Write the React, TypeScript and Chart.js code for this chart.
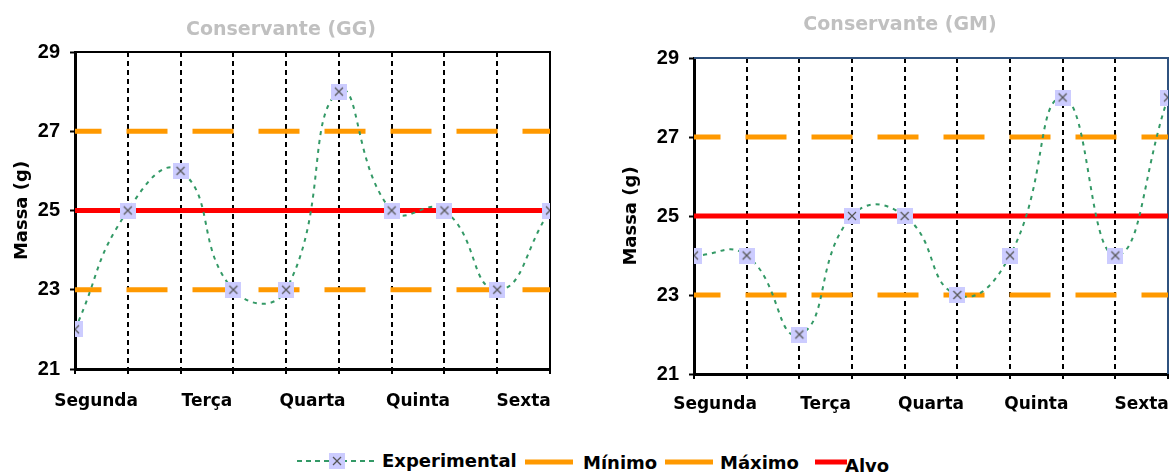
import React, { useEffect, useRef } from 'react';
import { Chart, registerables } from 'chart.js';

Chart.register(...registerables);

// ---------- data ----------
const DAYS = ['Segunda', 'Terça', 'Quarta', 'Quinta', 'Sexta'];
const DAY_POSITIONS = [0.4, 2.5, 4.5, 6.5, 8.5];
const SAMPLES = [0, 1, 2, 3, 4, 5, 6, 7, 8, 9];
const Y_TICKS = [21, 23, 25, 27, 29];

const GG_EXPERIMENTAL = [22, 25, 26, 23, 23, 28, 25, 25, 23, 25];
const GM_EXPERIMENTAL = [24, 24, 22, 25, 25, 23, 24, 28, 24, 28];
const MINIMO = [23, 23, 23, 23, 23, 23, 23, 23, 23, 23];
const MAXIMO = [27, 27, 27, 27, 27, 27, 27, 27, 27, 27];
const ALVO = [25, 25, 25, 25, 25, 25, 25, 25, 25, 25];

const TITLE_GG = 'Conservante (GG)';
const TITLE_GM = 'Conservante (GM)';

// ---------- styles ----------
const GREEN = '#339966';
const ORANGE = '#ff9900';
const RED = '#ff0000';
const MARKER_FILL = '#ccccff';
const FONT = 'DejaVu Sans';

function makeMarker(): HTMLCanvasElement {
  const c = document.createElement('canvas');
  c.width = 16;
  c.height = 16;
  const g = c.getContext('2d')!;
  g.fillStyle = MARKER_FILL;
  g.fillRect(0, 0, 16, 16);
  g.strokeStyle = '#555555';
  g.lineWidth = 1.2;
  g.beginPath();
  g.moveTo(4, 4);
  g.lineTo(12, 12);
  g.moveTo(12, 4);
  g.lineTo(4, 12);
  g.stroke();
  return c;
}

const framePlugin = {
  id: 'frame',
  beforeDatasetsDraw(chart: any, _args: any, opts: any) {
    const { ctx, chartArea: a } = chart;
    ctx.save();
    ctx.strokeStyle = opts.color;
    ctx.lineWidth = opts.width;
    ctx.beginPath();
    ctx.moveTo(a.left, a.top);
    ctx.lineTo(a.right, a.top);
    ctx.lineTo(a.right, a.bottom);
    ctx.stroke();
    ctx.restore();
  },
};

const pts = (vals: number[]) => vals.map((v, i) => ({ x: SAMPLES[i], y: v }));

interface Cfg {
  title: string;
  values: number[];
  frameColor: string;
  frameWidth: number;
  padL: number;
  padR: number;
  yWidth: number;
  yTitlePad: number;
  titlePadTop: number;
  titlePadBottom: number;
  xHeight: number;
  xPad: number;
  marker: HTMLCanvasElement;
}

function buildConfig(o: Cfg): any {
  const refLine = (label: string, data: number[], color: string, dashed: boolean) => ({
    label,
    data: pts(data),
    borderColor: color,
    backgroundColor: color,
    borderWidth: 5,
    borderCapStyle: 'square',
    borderDash: dashed ? [36, 30] : [],
    borderDashOffset: dashed ? 12 : 0,
    pointRadius: 0,
    tension: 0,
    fill: false,
  });
  return {
    type: 'line',
    data: {
      datasets: [
        {
          label: 'Experimental',
          data: pts(o.values),
          borderColor: GREEN,
          borderWidth: 2,
          borderDash: [4, 5],
          tension: 0.5,
          pointStyle: o.marker,
          pointRadius: 8,
          pointBorderWidth: 0,
          fill: false,
        },
        refLine('Mínimo', MINIMO, ORANGE, true),
        refLine('Máximo', MAXIMO, ORANGE, true),
        refLine('Alvo', ALVO, RED, false),
      ],
    },
    options: {
      responsive: false,
      animation: false,
      events: [],
      layout: { autoPadding: false, padding: { left: o.padL, right: o.padR, top: 0, bottom: 0 } },
      plugins: {
        legend: { display: false },
        tooltip: { enabled: false },
        title: {
          display: true,
          text: o.title,
          color: '#c0c0c0',
          font: { family: FONT, size: 19, weight: 'bold', lineHeight: 1.2 },
          padding: { top: o.titlePadTop, bottom: o.titlePadBottom },
        },
        frame: { color: o.frameColor, width: o.frameWidth },
      },
      scales: {
        x: {
          type: 'linear',
          min: 0,
          max: 9,
          afterBuildTicks: (s: any) => {
            const t: any[] = [];
            SAMPLES.forEach((v) => t.push({ value: v }));
            DAY_POSITIONS.forEach((v) => t.push({ value: v }));
            t.sort((a, b) => a.value - b.value);
            s.ticks = t;
          },
          ticks: {
            autoSkip: false,
            maxRotation: 0,
            minRotation: 0,
            color: '#000',
            padding: o.xPad,
            font: { family: FONT, size: 17, weight: 'bold', lineHeight: 1.2 },
            callback: (v: number) => {
              const i = DAY_POSITIONS.indexOf(v);
              return i >= 0 ? DAYS[i] : '';
            },
          },
          grid: {
            color: (c: any) => {
              const v = c.tick ? c.tick.value : -1;
              return SAMPLES.includes(v) && v > 0 && v < 9 ? '#000' : 'rgba(0,0,0,0)';
            },
            lineWidth: 2,
            tickLength: 5,
            tickWidth: 2,
            tickColor: (c: any) => {
              const v = c.tick ? c.tick.value : -1;
              return SAMPLES.includes(v) ? '#000' : 'rgba(0,0,0,0)';
            },
          },
          border: { color: '#000', width: 3, dash: [5, 4] },
          afterFit: (s: any) => {
            s.height = o.xHeight;
            s.paddingLeft = 0;
            s.paddingRight = 0;
          },
        },
        y: {
          type: 'linear',
          min: 21,
          max: 29,
          afterBuildTicks: (s: any) => {
            s.ticks = Y_TICKS.map((v) => ({ value: v }));
          },
          ticks: {
            color: '#000',
            padding: 10,
            font: { family: 'Liberation Sans', size: 20, weight: 'bold' },
          },
          grid: {
            drawOnChartArea: false,
            tickLength: 5,
            tickWidth: 2,
            tickColor: '#000',
          },
          border: { color: '#000', width: 3 },
          title: {
            display: true,
            text: 'Massa (g)',
            color: '#000',
            font: { family: FONT, size: 18, weight: 'bold', lineHeight: 1 },
            padding: { top: o.yTitlePad, bottom: 0 },
          },
          afterFit: (s: any) => {
            s.width = o.yWidth;
          },
        },
      },
    },
    plugins: [framePlugin],
  };
}

const legendText: React.CSSProperties = {
  position: 'absolute',
  fontFamily: FONT,
  fontWeight: 'bold',
  fontSize: 18,
  lineHeight: '18px',
  color: '#000',
  whiteSpace: 'nowrap',
};

export default function App() {
  const leftRef = useRef<HTMLCanvasElement>(null);
  const rightRef = useRef<HTMLCanvasElement>(null);

  useEffect(() => {
    const marker = makeMarker();
    const c1 = new Chart(
      leftRef.current!,
      buildConfig({
        title: TITLE_GG,
        values: GG_EXPERIMENTAL,
        frameColor: '#000',
        frameWidth: 2,
        padL: 12,
        padR: 20,
        yWidth: 63,
        yTitlePad: 1,
        titlePadTop: 18.6,
        titlePadBottom: 10.6,
        xHeight: 61,
        xPad: 17,
        marker,
      })
    );
    const c2 = new Chart(
      rightRef.current!,
      buildConfig({
        title: TITLE_GM,
        values: GM_EXPERIMENTAL,
        frameColor: '#2f527f',
        frameWidth: 2,
        padL: 42,
        padR: 5,
        yWidth: 62,
        yTitlePad: -10,
        titlePadTop: 14.1,
        titlePadBottom: 21.1,
        xHeight: 56,
        xPad: 15,
        marker,
      })
    );
    return () => {
      c1.destroy();
      c2.destroy();
    };
  }, []);

  return (
    <div
      style={{
        position: 'fixed',
        left: 0,
        top: 0,
        width: 1173,
        height: 473,
        background: '#fff',
        overflow: 'hidden',
      }}
    >
      <canvas ref={leftRef} width={570} height={430} style={{ position: 'absolute', left: 0, top: 0 }} />
      <canvas ref={rightRef} width={583} height={430} style={{ position: 'absolute', left: 590, top: 0 }} />

      <svg width={80} height={18} style={{ position: 'absolute', left: 297, top: 452 }}>
        <line x1={0} y1={9} x2={80} y2={9} stroke={GREEN} strokeWidth={2} strokeDasharray="5 4" />
        <rect x={32} y={1} width={16} height={16} fill={MARKER_FILL} />
        <line x1={36} y1={5} x2={44} y2={13} stroke="#555" strokeWidth={1.2} />
        <line x1={44} y1={5} x2={36} y2={13} stroke="#555" strokeWidth={1.2} />
      </svg>
      <span style={{ ...legendText, left: 382, top: 452 }}>Experimental</span>

      <svg width={48} height={6} style={{ position: 'absolute', left: 525, top: 459 }}>
        <rect x={0} y={0.5} width={48} height={5} fill={ORANGE} />
      </svg>
      <span style={{ ...legendText, left: 583, top: 454 }}>Mínimo</span>

      <svg width={48} height={6} style={{ position: 'absolute', left: 665, top: 459 }}>
        <rect x={0} y={0.5} width={48} height={5} fill={ORANGE} />
      </svg>
      <span style={{ ...legendText, left: 720, top: 454 }}>Máximo</span>

      <svg width={32} height={6} style={{ position: 'absolute', left: 815, top: 459 }}>
        <rect x={0} y={0.5} width={32} height={5} fill={RED} />
      </svg>
      <span style={{ ...legendText, left: 845, top: 457 }}>Alvo</span>
    </div>
  );
}
